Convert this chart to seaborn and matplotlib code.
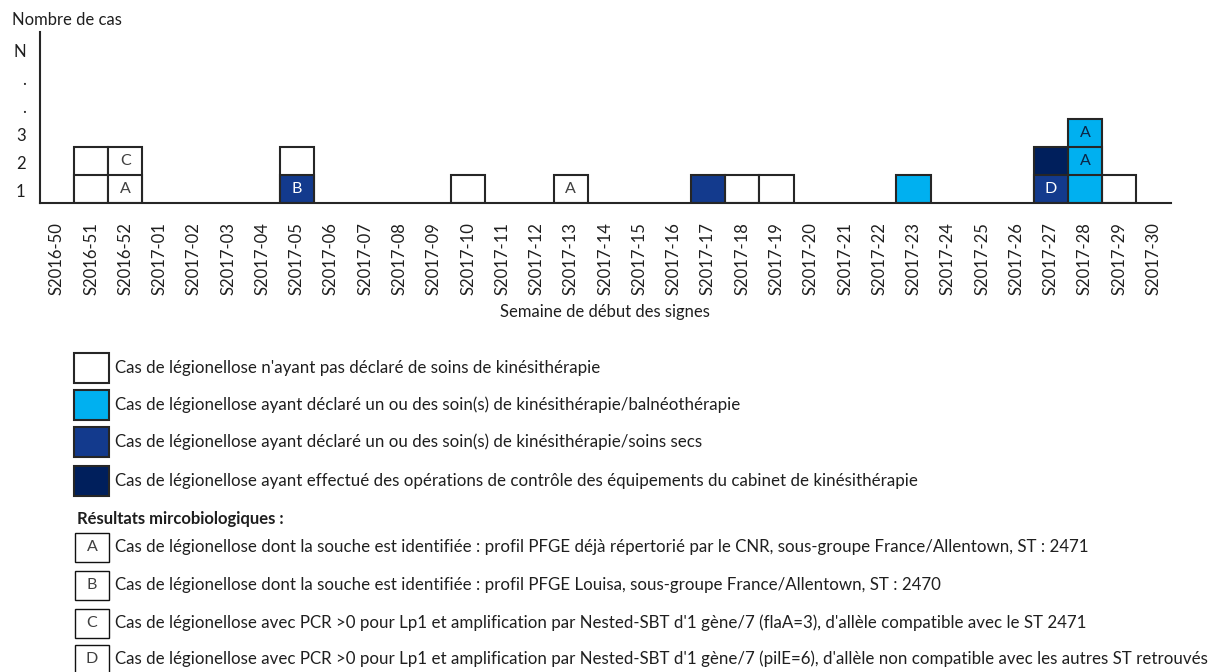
import pandas as pd
import numpy as np
import matplotlib
matplotlib.use('Agg')
import matplotlib.pyplot as plt
import seaborn as sns

# semaines de l'axe x
weeks = ['S2016-50', 'S2016-51', 'S2016-52',
         'S2017-01', 'S2017-02', 'S2017-03', 'S2017-04', 'S2017-05', 'S2017-06',
         'S2017-07', 'S2017-08', 'S2017-09', 'S2017-10', 'S2017-11', 'S2017-12',
         'S2017-13', 'S2017-14', 'S2017-15', 'S2017-16', 'S2017-17', 'S2017-18',
         'S2017-19', 'S2017-20', 'S2017-21', 'S2017-22', 'S2017-23', 'S2017-24',
         'S2017-25', 'S2017-26', 'S2017-27', 'S2017-28', 'S2017-29', 'S2017-30']

# un cas = une case, empilées dans l'ordre de la liste
case_week = ['S2016-51', 'S2016-51', 'S2016-52', 'S2016-52', 'S2017-05', 'S2017-05',
             'S2017-10', 'S2017-13', 'S2017-17', 'S2017-18', 'S2017-19', 'S2017-23',
             'S2017-27', 'S2017-27', 'S2017-28', 'S2017-28', 'S2017-28', 'S2017-29']
case_group = ['aucun', 'aucun', 'aucun', 'aucun', 'secs', 'aucun',
              'aucun', 'aucun', 'secs', 'aucun', 'aucun', 'balneo',
              'secs', 'controle', 'balneo', 'balneo', 'balneo', 'aucun']
case_letter = ['', '', 'A', 'C', 'B', '',
               '', 'A', '', '', '', '',
               'D', '', '', 'A', 'A', '']

groups = ['aucun', 'balneo', 'secs', 'controle']
group_colors = {'aucun': '#FFFFFF', 'balneo': '#00B0F0', 'secs': '#133A8D', 'controle': '#001F5C'}
letter_colors = {'aucun': '#404040', 'balneo': '#0B2545', 'secs': '#FFFFFF', 'controle': '#FFFFFF'}

group_labels = [
    "Cas de légionellose n'ayant pas déclaré de soins de kinésithérapie",
    "Cas de légionellose ayant déclaré un ou des soin(s) de kinésithérapie/balnéothérapie",
    "Cas de légionellose ayant déclaré un ou des soin(s) de kinésithérapie/soins secs",
    "Cas de légionellose ayant effectué des opérations de contrôle des équipements du cabinet de kinésithérapie",
]
micro_letters = ['A', 'B', 'C', 'D']
micro_labels = [
    "Cas de légionellose dont la souche est identifiée : profil PFGE déjà répertorié par le CNR, sous-groupe France/Allentown, ST : 2471",
    "Cas de légionellose dont la souche est identifiée : profil PFGE Louisa, sous-groupe France/Allentown, ST : 2470",
    "Cas de légionellose avec PCR >0 pour Lp1 et amplification par Nested-SBT d'1 gène/7 (flaA=3), d'allèle compatible avec le ST 2471",
    "Cas de légionellose avec PCR >0 pour Lp1 et amplification par Nested-SBT d'1 gène/7 (pilE=6), d'allèle non compatible avec les autres ST retrouvés",
]
ytick_labels = ['1', '2', '3', '.', '.', 'N']

df = pd.DataFrame({'week': case_week, 'group': case_group, 'letter': case_letter})
df['level'] = df.groupby('week').cumcount()
df['top'] = df['level'] + 1

sns.set_theme(style='white')
plt.rcParams['font.family'] = ['Lato', 'DejaVu Sans']
TXT = '#1f1f1f'
EDGE = '#262626'
FS = 12
FS_LEG = 12.2

W, H = 1208, 672
fig = plt.figure(figsize=(W / 100, H / 100), dpi=100)
ax = fig.add_axes([39.6 / W, 1 - 203 / H, 1131 / W, 171 / H])

# on dessine les niveaux du haut vers le bas pour que chaque case garde son contour
for lvl in sorted(df['level'].unique(), reverse=True):
    sub = df[df['level'] == lvl]
    sns.barplot(data=sub, x='week', y='top', hue='group', order=weeks, hue_order=groups,
                palette=group_colors, saturation=1, dodge=False, width=1, edgecolor=EDGE,
                linewidth=1.5, legend=False, ax=ax, errorbar=None)

for _, r in df.iterrows():
    if r['letter']:
        ax.text(weeks.index(r['week']), r['level'] + 0.5, r['letter'], ha='center', va='center',
                fontsize=11.5, color=letter_colors[r['group']])

ax.set_xlim(-0.5, len(weeks) - 0.5)
ax.set_ylim(0, 6.1)
ax.set_yticks(np.arange(len(ytick_labels)) + 0.45)
ax.set_yticklabels(ytick_labels, fontsize=FS, color=TXT)
ax.set_xticks(range(len(weeks)))
ax.set_xticklabels(weeks, rotation=90, fontsize=FS, color=TXT)
ax.tick_params(axis='both', length=0)
ax.tick_params(axis='x', pad=14)
ax.tick_params(axis='y', pad=10)
ax.set_xlabel('Semaine de début des signes', fontsize=FS, color=TXT, labelpad=6)
ax.set_ylabel('')
sns.despine(ax=ax)
for s in ['left', 'bottom']:
    ax.spines[s].set_color('#262626')
    ax.spines[s].set_linewidth(1.5)
ax.set_facecolor('none')

fig.text(12 / W, 1 - 20 / H, 'Nombre de cas', fontsize=FS, color=TXT, va='center', ha='left')

# légende des couleurs
legend_y = [368, 405, 442, 481]
for i, g in enumerate(groups):
    yc = legend_y[i]
    fig.add_artist(plt.Rectangle((74 / W, 1 - (yc + 15) / H), 35 / W, 30 / H,
                                 transform=fig.transFigure, facecolor=group_colors[g],
                                 edgecolor=EDGE, linewidth=1.5))
    fig.text(115 / W, 1 - yc / H, group_labels[i], fontsize=FS_LEG, color=TXT, va='center', ha='left')

fig.text(77 / W, 1 - 519 / H, 'Résultats mircobiologiques :', fontsize=FS, fontweight='bold',
         color=TXT, va='center', ha='left')

micro_y = [547, 585, 623, 659]
for i, let in enumerate(micro_letters):
    yc = micro_y[i]
    fig.add_artist(plt.Rectangle((75 / W, 1 - (yc + 14.5) / H), 34 / W, 29 / H,
                                 transform=fig.transFigure, facecolor='white',
                                 edgecolor='#111111', linewidth=1.0))
    fig.text(92 / W, 1 - yc / H, let, fontsize=11.5, color='#404040', va='center', ha='center')
    fig.text(115 / W, 1 - yc / H, micro_labels[i], fontsize=FS_LEG, color=TXT, va='center', ha='left')

fig.savefig('out.png', dpi=100)
